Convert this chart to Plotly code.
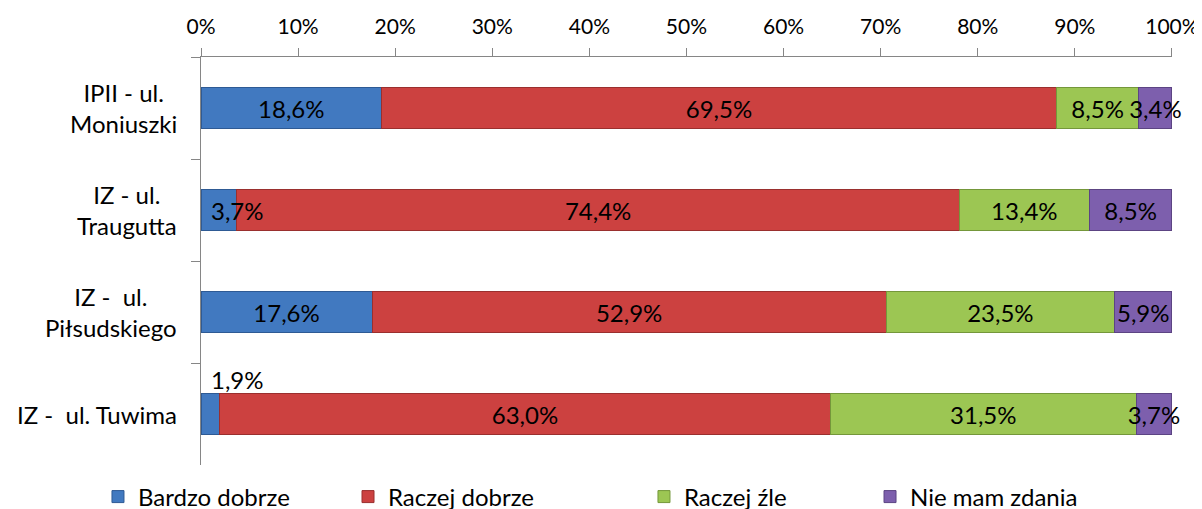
import plotly.graph_objects as go

categories = ["IPII - ul.<br>Moniuszki", "IZ - ul.<br>Traugutta", "IZ -  ul.<br>Piłsudskiego", "IZ -  ul. Tuwima"]
series_names = ["Bardzo dobrze", "Raczej dobrze", "Raczej źle", "Nie mam zdania"]
bardzo_dobrze = [18.6, 3.7, 17.6, 1.9]
raczej_dobrze = [69.5, 74.4, 52.9, 63.0]
raczej_zle = [8.5, 13.4, 23.5, 31.5]
nie_mam_zdania = [3.4, 8.5, 5.9, 3.7]
x_ticks = [0, 10, 20, 30, 40, 50, 60, 70, 80, 90, 100]
x_tick_labels = ["0%", "10%", "20%", "30%", "40%", "50%", "60%", "70%", "80%", "90%", "100%"]

series_values = [bardzo_dobrze, raczej_dobrze, raczej_zle, nie_mam_zdania]
colors = ["#4179C0", "#CC4140", "#9CC653", "#7D5FAD"]
edge = ["#2E5A94", "#9A2F2E", "#74973A", "#5C4483"]
legend_x = [-0.1061, 0.1514, 0.4562, 0.6890]

FONT = "Lato, Carlito, Calibri, sans-serif"

def fmt(v):
    return f"{v:.1f}".replace(".", ",") + "%"

fig = go.Figure()
for i, (name, vals) in enumerate(zip(series_names, series_values)):
    texts = [fmt(v) for v in vals]
    if i == 0:
        texts[1] = ""  # small values labelled separately
        texts[3] = ""
    fig.add_trace(go.Bar(
        y=categories, x=vals, name=name, orientation="h",
        marker=dict(color=colors[i], line=dict(color=edge[i], width=1)),
        width=0.41,
        text=texts, textposition="inside", insidetextanchor="middle",
        textangle=0, constraintext="none", cliponaxis=False,
        textfont=dict(family=FONT, size=24, color="#000000"),
        legend="legend" if i == 0 else f"legend{i+1}",
        hoverinfo="skip",
    ))

# labels for the narrow first segments, kept inside the plot area
fig.add_annotation(
    x=0, y=categories[1], text=fmt(bardzo_dobrze[1]),
    xanchor="left", yanchor="middle", xshift=8, showarrow=False,
    font=dict(family=FONT, size=24, color="#000000"),
)
fig.add_annotation(
    x=0, y=categories[3], text=fmt(bardzo_dobrze[3]),
    xanchor="left", yanchor="bottom", xshift=8, yshift=18, showarrow=False,
    font=dict(family=FONT, size=24, color="#000000"),
)

# category labels (centred lines, right-aligned block like the original)
for c in categories:
    fig.add_annotation(
        x=-0.0226, xref="paper", y=c, yref="y", text=c,
        xanchor="right", yanchor="middle", align="center", showarrow=False,
        font=dict(family=FONT, size=24, color="#000000"),
    )

legend_common = dict(orientation="h", y=-0.0784, yanchor="middle", xanchor="left",
                     font=dict(family=FONT, size=24, color="#000000"),
                     bgcolor="rgba(0,0,0,0)", itemclick=False)
layout_legends = {}
for i in range(4):
    key = "legend" if i == 0 else f"legend{i+1}"
    layout_legends[key] = dict(legend_common, x=legend_x[i])

fig.update_layout(
    barmode="stack", barnorm="percent",
    width=1202, height=540,
    margin=dict(l=193, r=38, t=49, b=83),
    paper_bgcolor="white", plot_bgcolor="white",
    font=dict(family=FONT, size=21, color="#000000"),
    showlegend=True,
    **layout_legends,
    xaxis=dict(
        side="top", range=[0, 100.01], tickvals=x_ticks, ticktext=x_tick_labels,
        showgrid=False, zeroline=False, showline=True, linecolor="#868686", linewidth=1,
        ticks="outside", ticklen=8, tickcolor="#868686", automargin=False,
        ticklabelstandoff=6,
        tickfont=dict(family=FONT, size=21, color="#000000"),
    ),
    yaxis=dict(
        type="category", categoryorder="array", categoryarray=categories,
        autorange="reversed", tickson="boundaries", showticklabels=False,
        showgrid=False, zeroline=False, showline=True, linecolor="#868686", linewidth=1,
        ticks="outside", ticklen=9, tickcolor="#868686", automargin=False,
    ),
)

fig.write_html("out.html")
